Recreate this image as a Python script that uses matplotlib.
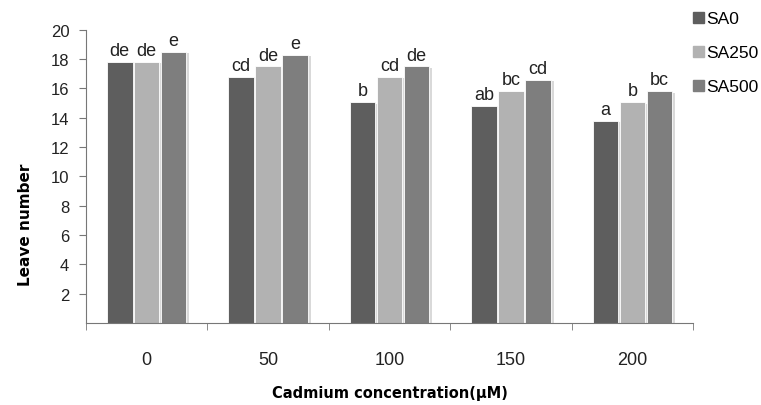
import matplotlib
matplotlib.use("Agg")
import matplotlib.pyplot as plt
import matplotlib.patheffects as pe
from matplotlib.patches import Patch
import numpy as np

plt.rcParams["font.family"] = ["Liberation Sans", "DejaVu Sans"]

categories = ["0", "50", "100", "150", "200"]
series = ["SA0", "SA250", "SA500"]
sa0 = [17.8, 16.8, 15.05, 14.8, 13.8]
sa250 = [17.8, 17.5, 16.8, 15.8, 15.05]
sa500 = [18.5, 18.3, 17.5, 16.6, 15.8]
letters_sa0 = ["de", "cd", "b", "ab", "a"]
letters_sa250 = ["de", "de", "cd", "bc", "b"]
letters_sa500 = ["e", "e", "de", "cd", "bc"]

colors = ["#5e5e5e", "#b2b2b2", "#7e7e7e"]

fig = plt.figure(figsize=(7.61, 4.06), dpi=100)
ax = fig.add_axes([0.113, 0.202, 0.798, 0.722])

x = np.arange(len(categories))
w = 0.21
step = 0.222
shadow = [pe.SimplePatchShadow(offset=(2, -1), shadow_rgbFace="#d0d0d0", alpha=0.8), pe.Normal()]
for k, (vals, labs) in enumerate(zip([sa0, sa250, sa500],
                                     [letters_sa0, letters_sa250, letters_sa500])):
    pos = x + (k - 1) * step
    bars = ax.bar(pos, vals, width=w, color=colors[k], edgecolor="white",
                  linewidth=0.6, label=series[k], zorder=2)
    for b in bars:
        b.set_path_effects(shadow)
    for p, v, t in zip(pos, vals, labs):
        ax.text(p, v + 0.2, t, ha="center", va="bottom", fontsize=13,
                color="#222222")

ax.set_xlim(-0.5, len(categories) - 0.5)
ax.set_ylim(0, 20)
ax.set_yticks(np.arange(2, 21, 2))
ax.set_xticks(x)
ax.set_xticklabels(categories)
ax.set_xticks(np.arange(-0.5, len(categories), 1), minor=True)
ax.tick_params(axis="x", which="major", length=0, pad=20, labelsize=13, colors="#222222")
ax.tick_params(axis="x", which="minor", length=5, direction="out", color="#777777")
ax.tick_params(axis="y", length=5, direction="out", color="#777777", labelsize=12,
               labelcolor="#222222", pad=7)
for s in ["top", "right"]:
    ax.spines[s].set_visible(False)
for s in ["left", "bottom"]:
    ax.spines[s].set_color("#777777")

ax.set_ylabel("Leave number", fontsize=11, fontweight="bold", family="DejaVu Sans")
ax.yaxis.set_label_coords(-0.088, 0.34)
ax.set_xlabel("Cadmium concentration(μM)", fontsize=10.5, fontweight="bold",
              family="DejaVu Sans")
ax.xaxis.set_label_coords(0.5, -0.21)

handles = [Patch(color=c, label=s) for c, s in zip(colors, series)]
fig.legend(handles=handles, loc="upper left", bbox_to_anchor=(0.911, 0.97), frameon=False,
           fontsize=12.5, handlelength=0.6, handleheight=0.6, handletextpad=0.15,
           labelspacing=1.1, borderpad=0, borderaxespad=0)

fig.savefig("out.png", dpi=100)
